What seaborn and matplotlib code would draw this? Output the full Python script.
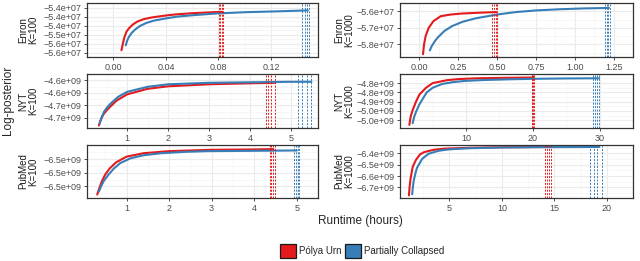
# Log-posterior vs runtime for Polya Urn and Partially Collapsed samplers
import numpy as np
import pandas as pd
import matplotlib
matplotlib.use("Agg")
import matplotlib.pyplot as plt
from matplotlib.patches import Patch
import seaborn as sns

methods = ["Pólya Urn", "Partially Collapsed"]
colors = {"Pólya Urn": "#E41A1C", "Partially Collapsed": "#377EB8"}

# ---- Enron, K=100 ----
enron100_pu_hours = [0.0062, 0.0075, 0.0085, 0.010, 0.0118, 0.015, 0.0185, 0.023, 0.0295, 0.038, 0.047, 0.061, 0.072, 0.083]
enron100_pu_logp = [-5.550e7, -5.515e7, -5.491e7, -5.468e7, -5.453e7, -5.435e7, -5.422e7, -5.412e7, -5.404e7, -5.397e7, -5.391e7, -5.385e7, -5.382e7, -5.379e7]
enron100_pc_hours = [0.0095, 0.0105, 0.0118, 0.014, 0.0162, 0.020, 0.025, 0.031, 0.0385, 0.048, 0.061, 0.080, 0.100, 0.125, 0.148]
enron100_pc_logp = [-5.528e7, -5.508e7, -5.491e7, -5.473e7, -5.460e7, -5.443e7, -5.429e7, -5.418e7, -5.410e7, -5.401e7, -5.394e7, -5.386e7, -5.381e7, -5.377e7, -5.373e7]
enron100_pu_ends = [0.0805, 0.0815, 0.0825, 0.0835]
enron100_pc_ends = [0.1435, 0.1455, 0.1475, 0.1490]
enron100_xticks = [0.00, 0.04, 0.08, 0.12]
enron100_xlabels = ["0.00", "0.04", "0.08", "0.12"]
enron100_yticks = [-5.36e7, -5.40e7, -5.44e7, -5.48e7, -5.52e7, -5.56e7]
enron100_ylabels = ["−5.4e+07", "−5.4e+07", "−5.4e+07", "−5.5e+07", "−5.6e+07", "−5.6e+07"]

# ---- Enron, K=1000 ----
enron1000_pu_hours = [0.023, 0.03, 0.04, 0.06, 0.09, 0.137, 0.2, 0.27, 0.38, 0.49]
enron1000_pu_logp = [-5.860e7, -5.800e7, -5.750e7, -5.700e7, -5.660e7, -5.630e7, -5.620e7, -5.614e7, -5.609e7, -5.605e7]
enron1000_pc_hours = [0.067, 0.08, 0.10, 0.118, 0.16, 0.21, 0.28, 0.366, 0.5, 0.62, 0.75, 0.9, 1.05, 1.22]
enron1000_pc_logp = [-5.837e7, -5.810e7, -5.780e7, -5.759e7, -5.720e7, -5.690e7, -5.663e7, -5.642e7, -5.620e7, -5.605e7, -5.595e7, -5.588e7, -5.583e7, -5.580e7]
enron1000_pu_ends = [0.47, 0.48, 0.49, 0.50]
enron1000_pc_ends = [1.195, 1.205, 1.215, 1.225]
enron1000_xticks = [0.00, 0.25, 0.50, 0.75, 1.00, 1.25]
enron1000_xlabels = ["0.00", "0.25", "0.50", "0.75", "1.00", "1.25"]
enron1000_yticks = [-5.6e7, -5.7e7, -5.8e7]
enron1000_ylabels = ["−5.6e+07", "−5.7e+07", "−5.8e+07"]

# ---- NYT, K=100 ----
nyt100_pu_hours = [0.31, 0.35, 0.42, 0.5, 0.58, 0.75, 1.0, 1.5, 2.0, 3.0, 4.0, 4.6]
nyt100_pu_logp = [-4.690e9, -4.680e9, -4.668e9, -4.660e9, -4.653e9, -4.640e9, -4.628e9, -4.617e9, -4.612e9, -4.608e9, -4.606e9, -4.605e9]
nyt100_pc_hours = [0.33, 0.37, 0.44, 0.52, 0.6, 0.78, 1.0, 1.5, 2.0, 3.0, 4.0, 5.0, 5.5]
nyt100_pc_logp = [-4.686e9, -4.675e9, -4.662e9, -4.653e9, -4.646e9, -4.633e9, -4.623e9, -4.613e9, -4.608e9, -4.605e9, -4.604e9, -4.603e9, -4.603e9]
nyt100_pu_ends = [4.40, 4.45, 4.52, 4.60]
nyt100_pc_ends = [5.17, 5.28, 5.40, 5.50]
nyt100_xticks = [1, 2, 3, 4, 5]
nyt100_xlabels = ["1", "2", "3", "4", "5"]
nyt100_yticks = [-4.600e9, -4.625e9, -4.650e9, -4.675e9]
nyt100_ylabels = ["−4.6e+09", "−4.6e+09", "−4.7e+09", "−4.7e+09"]

# ---- NYT, K=1000 ----
nyt1000_pu_hours = [1.5, 1.7, 2.0, 2.5, 3.0, 4.0, 5.0, 7.2, 9.0, 11.7, 15, 20.1]
nyt1000_pu_logp = [-5.025e9, -4.980e9, -4.945e9, -4.900e9, -4.862e9, -4.825e9, -4.800e9, -4.784e9, -4.778e9, -4.774e9, -4.772e9, -4.770e9]
nyt1000_pc_hours = [2.0, 2.2, 2.5, 3.0, 4.1, 5.0, 6.4, 8.0, 9.9, 13, 16.1, 20, 25, 29.9]
nyt1000_pc_logp = [-5.016e9, -4.985e9, -4.955e9, -4.915e9, -4.850e9, -4.825e9, -4.805e9, -4.795e9, -4.788e9, -4.783e9, -4.780e9, -4.777e9, -4.775e9, -4.774e9]
nyt1000_pu_ends = [19.8, 19.9, 20.0, 20.1]
nyt1000_pc_ends = [29.0, 29.3, 29.6, 29.9]
nyt1000_xticks = [10, 20, 30]
nyt1000_xlabels = ["10", "20", "30"]
nyt1000_yticks = [-4.80e9, -4.85e9, -4.90e9, -4.95e9, -5.00e9]
nyt1000_ylabels = ["−4.8e+09", "−4.8e+09", "−4.9e+09", "−5.0e+09", "−5.0e+09"]

# ---- PubMed, K=100 ----
pubmed100_pu_hours = [0.31, 0.36, 0.42, 0.5, 0.6, 0.75, 1.0, 1.4, 2.0, 3.0, 4.0, 4.45]
pubmed100_pu_logp = [-6.564e9, -6.545e9, -6.525e9, -6.505e9, -6.488e9, -6.470e9, -6.453e9, -6.443e9, -6.437e9, -6.433e9, -6.432e9, -6.431e9]
pubmed100_pc_hours = [0.35, 0.4, 0.46, 0.58, 0.7, 0.85, 1.09, 1.4, 1.82, 2.4, 2.9, 4.0, 5.0]
pubmed100_pc_logp = [-6.555e9, -6.540e9, -6.525e9, -6.505e9, -6.488e9, -6.472e9, -6.458e9, -6.449e9, -6.443e9, -6.439e9, -6.437e9, -6.436e9, -6.435e9]
pubmed100_pu_ends = [4.36, 4.40, 4.44, 4.48]
pubmed100_pc_ends = [4.94, 4.98, 5.02, 5.06]
pubmed100_xticks = [1, 2, 3, 4, 5]
pubmed100_xlabels = ["1", "2", "3", "4", "5"]
pubmed100_yticks = [-6.46e9, -6.50e9, -6.54e9]
pubmed100_ylabels = ["−6.5e+09", "−6.5e+09", "−6.5e+09"]

# ---- PubMed, K=1000 ----
pubmed1000_pu_hours = [1.14, 1.2, 1.3, 1.5, 1.8, 2.2, 2.6, 3.5, 4.5, 7.0, 10.0, 14.5]
pubmed1000_pu_logp = [-6.770e9, -6.700e9, -6.620e9, -6.520e9, -6.460e9, -6.410e9, -6.390e9, -6.370e9, -6.360e9, -6.352e9, -6.348e9, -6.345e9]
pubmed1000_pc_hours = [1.45, 1.5, 1.6, 1.75, 1.9, 2.4, 3.0, 4.0, 5.0, 7.0, 10.0, 14.0, 19.3]
pubmed1000_pc_logp = [-6.760e9, -6.710e9, -6.640e9, -6.580e9, -6.530e9, -6.450e9, -6.405e9, -6.378e9, -6.366e9, -6.356e9, -6.350e9, -6.347e9, -6.345e9]
pubmed1000_pu_ends = [14.1, 14.3, 14.5, 14.7]
pubmed1000_pc_ends = [18.4, 18.8, 19.1, 19.5]
pubmed1000_xticks = [5, 10, 15, 20]
pubmed1000_xlabels = ["5", "10", "15", "20"]
pubmed1000_yticks = [-6.4e9, -6.5e9, -6.6e9, -6.7e9]
pubmed1000_ylabels = ["−6.4e+09", "−6.5e+09", "−6.6e+09", "−6.7e+09"]

panels = [
    ("Enron\nK=100", enron100_pu_hours, enron100_pu_logp, enron100_pc_hours, enron100_pc_logp,
     enron100_pu_ends, enron100_pc_ends, enron100_xticks, enron100_xlabels, enron100_yticks, enron100_ylabels,
     (-0.0012, 0.1557), (-5.5615e7, -5.3565e7)),
    ("Enron\nK=1000", enron1000_pu_hours, enron1000_pu_logp, enron1000_pc_hours, enron1000_pc_logp,
     enron1000_pu_ends, enron1000_pc_ends, enron1000_xticks, enron1000_xlabels, enron1000_yticks, enron1000_ylabels,
     (-0.035, 1.265), (-5.877e7, -5.563e7)),
    ("NYT\nK=100", nyt100_pu_hours, nyt100_pu_logp, nyt100_pc_hours, nyt100_pc_logp,
     nyt100_pu_ends, nyt100_pc_ends, nyt100_xticks, nyt100_xlabels, nyt100_yticks, nyt100_ylabels,
     (0.02, 5.66), (-4.695e9, -4.5985e9)),
    ("NYT\nK=1000", nyt1000_pu_hours, nyt1000_pu_logp, nyt1000_pc_hours, nyt1000_pc_logp,
     nyt1000_pu_ends, nyt1000_pc_ends, nyt1000_xticks, nyt1000_xlabels, nyt1000_yticks, nyt1000_ylabels,
     (0.1, 31.2), (-5.042e9, -4.751e9)),
    ("PubMed\nK=100", pubmed100_pu_hours, pubmed100_pu_logp, pubmed100_pc_hours, pubmed100_pc_logp,
     pubmed100_pu_ends, pubmed100_pc_ends, pubmed100_xticks, pubmed100_xlabels, pubmed100_yticks, pubmed100_ylabels,
     (0.07, 5.16), (-6.574e9, -6.419e9)),
    ("PubMed\nK=1000", pubmed1000_pu_hours, pubmed1000_pu_logp, pubmed1000_pc_hours, pubmed1000_pc_logp,
     pubmed1000_pu_ends, pubmed1000_pc_ends, pubmed1000_xticks, pubmed1000_xlabels, pubmed1000_yticks, pubmed1000_ylabels,
     (0.29, 20.3), (-6.793e9, -6.328e9)),
]

sns.set_theme(style="whitegrid")
plt.rcParams['font.family'] = ['Liberation Sans', 'DejaVu Sans']
plt.rcParams['axes.unicode_minus'] = True

W, H = 640, 261
fig = plt.figure(figsize=(W / 100, H / 100), dpi=100)

col_px = [(87, 318), (400, 633)]
row_px = [(3, 57), (74, 128), (145, 198)]
strip_x = [28, 344]


def minor_between(ticks):
    t = np.asarray(ticks, dtype=float)
    step = t[1] - t[0]
    ext = np.concatenate([[t[0] - step], t, [t[-1] + step]])
    return (ext[:-1] + ext[1:]) / 2


for i, (name, pu_x, pu_y, pc_x, pc_y, pu_end, pc_end, xt, xl, yt, yl, xlim, ylim) in enumerate(panels):
    r, c = divmod(i, 2)
    x0, x1 = col_px[c]
    y0, y1 = row_px[r]
    ax = fig.add_axes([x0 / W, 1 - y1 / H, (x1 - x0) / W, (y1 - y0) / H])
    ax.set_facecolor("white")

    df = pd.concat([
        pd.DataFrame({"hours": pu_x, "logp": pu_y, "method": methods[0]}),
        pd.DataFrame({"hours": pc_x, "logp": pc_y, "method": methods[1]}),
    ])
    sns.lineplot(data=df, x="hours", y="logp", hue="method", palette=colors,
                 estimator=None, sort=False, legend=False, linewidth=1.5, ax=ax)

    for e in pu_end:
        ax.axvline(e, color=colors[methods[0]], linestyle=(0, (2, 1.5)), linewidth=0.7)
    for e in pc_end:
        ax.axvline(e, color=colors[methods[1]], linestyle=(0, (2, 1.5)), linewidth=0.7)

    ax.set_xlim(*xlim)
    ax.set_ylim(*ylim)
    ax.set_xticks(xt, xl)
    ax.set_yticks(yt, yl)
    ax.set_xticks(minor_between(xt), minor=True)
    ax.set_yticks(minor_between(yt), minor=True)
    ax.grid(which="major", color="#EBEBEB", linewidth=0.8)
    ax.grid(which="minor", color="#F4F4F4", linewidth=0.5)
    ax.tick_params(which="major", length=2.5, width=0.6, color="#333333",
                   labelsize=6.5, labelcolor="#4D4D4D", pad=1.5,
                   bottom=True, left=True)
    ax.tick_params(which="minor", length=0)
    ax.set_xlabel("")
    ax.set_ylabel("")
    for s in ax.spines.values():
        s.set_color("#333333")
        s.set_linewidth(0.9)

    fig.text(strip_x[c] / W, 1 - (y0 + y1) / 2 / H, name, rotation=90,
             ha="center", va="center", multialignment="center",
             fontsize=7, color="#1A1A1A", linespacing=1.0)

fig.text(8 / W, 1 - 100 / H, "Log-posterior", rotation=90, ha="center", va="center", fontsize=8.5)
fig.text(360 / W, 1 - 221 / H, "Runtime (hours)", ha="center", va="center", fontsize=8.5)

handles = [Patch(facecolor=colors[m], edgecolor="#1A1A1A", linewidth=0.9, label=m) for m in methods]
fig.legend(handles=handles, loc="center", bbox_to_anchor=(362 / W, 1 - 251 / H), ncol=2,
           frameon=False, fontsize=7, handlelength=1.7, handleheight=1.7,
           handletextpad=0.3, columnspacing=0.3, borderpad=0)

fig.savefig("out.png", dpi=100)
